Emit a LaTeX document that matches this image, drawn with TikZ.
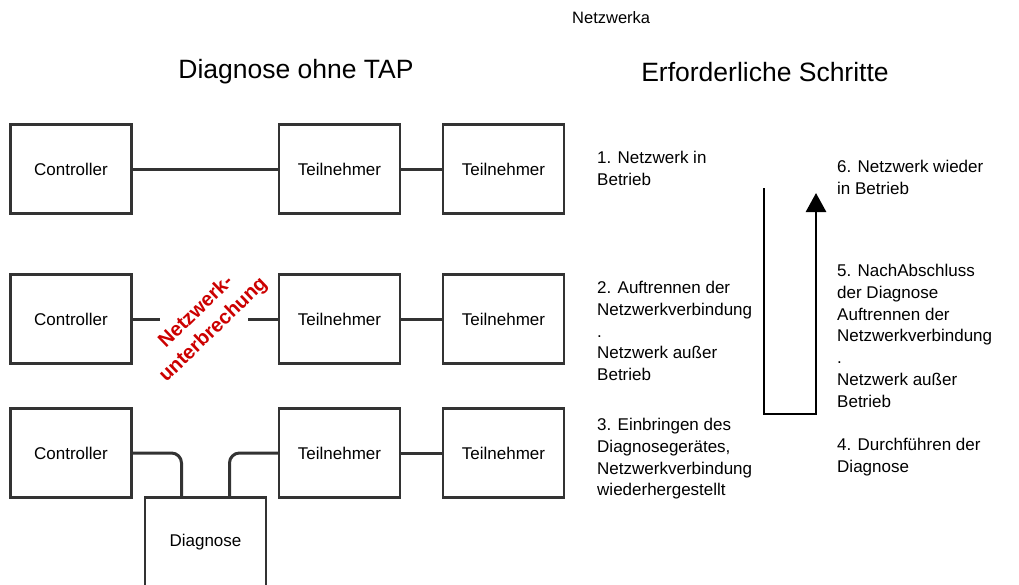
\documentclass[tikz,border=0pt]{standalone}
\usepackage{fontspec}
\setmainfont{Liberation Sans}
\usetikzlibrary{arrows.meta}
\definecolor{rahmen}{HTML}{333333}
\definecolor{rot}{HTML}{CC0000}
\tikzset{
 box/.style={draw=rahmen,line width=2.4pt,minimum width=121pt,minimum height=89pt,inner sep=0pt,font=\fontsize{17}{20}\selectfont},
 verb/.style={draw=rahmen,line width=3pt},
 schritt/.style={anchor=north west,inner sep=0pt,align=left,font=\fontsize{17}{21.8}\selectfont},
 titel/.style={inner sep=0pt,font=\fontsize{26.5}{30}\selectfont}
}
\newcommand{\Tn}{Teilnehmer}

\begin{document}
\begin{tikzpicture}[x=1pt,y=-1pt]
\useasboundingbox (0,0) rectangle (1019,584);
\node[anchor=west,inner sep=0pt,font=\fontsize{16.5}{18}\selectfont] (kopf) at (572,18) {Netzwerka};
\node[titel] (links) at (296,72) {Diagnose ohne TAP};
\node[titel] (rechts) at (765,72) {Erforderliche Schritte};

\foreach \r/\y in {1/169,2/319,3/453} {
 \node[box] (c\r) at (71,\y) {Controller};
 \node[box] (t\r) at (339.5,\y) {\Tn};
 \node[box] (u\r) at (503.5,\y) {\Tn};
 \draw[verb] (t\r) -- (u\r);
 }
\draw[verb] (c1) -- (t1);

\coordinate (g1) at (160,319);
\coordinate (g2) at (248,319);
\draw[verb] (c2) -- (g1);
\draw[verb] (g2) -- (t2);
\node[rotate=44,align=center,inner sep=0pt,text=rot,font=\bfseries\fontsize{20}{25}\selectfont] (bruch) at (205,321) {Netzwerk-\\unterbrechung};

\node[box] (d) at (205.5,542) {Diagnose};
\draw[verb,rounded corners=10pt] (c3) -| ([xshift=-24pt]d.north);
\draw[verb,rounded corners=10pt] (t3) -| ([xshift=24pt]d.north);

\node[schritt] (s1) at (597,151) {1. Netzwerk in\\Betrieb};
\node[schritt] (s2) at (597,281) {2. Auftrennen der\\Netzwerkverbindung\\.\\Netzwerk außer\\Betrieb};
\node[schritt] (s3) at (597,418) {3. Einbringen des\\Diagnosegerätes,\\Netzwerkverbindung\\wiederhergestellt};
\node[schritt] (s4) at (837,438) {4. Durchführen der\\Diagnose};
\node[schritt] (s5) at (837,264) {5. NachAbschluss\\der Diagnose\\Auftrennen der\\Netzwerkverbindung\\.\\Netzwerk außer\\Betrieb};
\node[schritt] (s6) at (837,160) {6. Netzwerk wieder\\in Betrieb};

\coordinate (p1) at (764,188);
\coordinate (p2) at (816,414);
\coordinate (p3) at (816,193);
\draw[line width=2.8pt,-{Triangle[length=19pt,width=20pt]}] (p1) |- (p2) -- (p3);
\end{tikzpicture}
\end{document}
